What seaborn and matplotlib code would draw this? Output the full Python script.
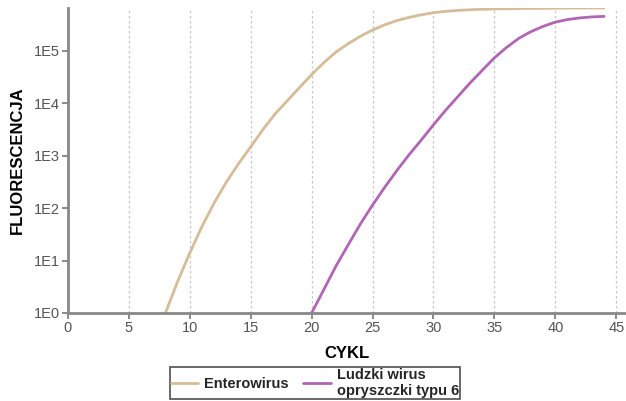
import pandas as pd
import matplotlib
matplotlib.use("Agg")
import matplotlib.pyplot as plt
import seaborn as sns

# cycle numbers and fluorescence
entero_cycles = list(range(8, 45))
entero_values = [1, 4, 14, 45, 126, 316, 708, 1480, 3160, 6300, 11200, 20000,
                 35500, 60000, 95500, 138000, 190500, 251000, 316000, 380000,
                 437000, 490000, 537000, 570000, 595000, 612000, 625000, 633000,
                 640000, 646000, 648000, 651000, 655000, 658000, 660000, 661000,
                 661000]
hhv6_cycles = list(range(20, 45))
hhv6_values = [1, 2.8, 7.9, 20, 50, 115, 251, 525, 1050, 2000, 3900, 7400,
               13500, 24500, 42700, 74000, 117000, 174000, 234000, 295000,
               355000, 398000, 427000, 447000, 457000]

series_names = ["Enterowirus", "Ludzki wirus\nopryszczki typu 6"]
x_ticks = [0, 5, 10, 15, 20, 25, 30, 35, 40, 45]
y_ticks = [1, 10, 100, 1000, 10000, 100000]
y_labels = ["1E0", "1E1", "1E2", "1E3", "1E4", "1E5"]

df = pd.concat([
    pd.DataFrame({"cykl": entero_cycles, "fl": entero_values, "seria": series_names[0]}),
    pd.DataFrame({"cykl": hhv6_cycles, "fl": hhv6_values, "seria": series_names[1]}),
])

sns.set_theme(style="white")
plt.rcParams["font.family"] = ["Liberation Sans", "DejaVu Sans"]

fig = plt.figure(figsize=(6.26, 4.01), dpi=100)
ax = fig.add_axes([0.1086, 0.2195, 0.8914, 0.7605])

palette = {series_names[0]: "#d6bc98", series_names[1]: "#b165b4"}
sns.lineplot(data=df, x="cykl", y="fl", hue="seria", palette=palette,
             linewidth=2, ax=ax, legend=False)

ax.set_yscale("log")
ax.set_ylim(1, 6.6e5)
ax.set_xlim(0, 45.8)
ax.set_xticks(x_ticks)
ax.set_yticks(y_ticks)
ax.set_yticklabels(y_labels)
ax.minorticks_off()
ax.tick_params(axis="both", labelsize=10.5, labelcolor="#555555", colors="#777777",
               length=4, width=1.2, direction="out", bottom=True, left=True, pad=2)

for x in x_ticks[1:]:
    ax.axvline(x, color="#c8c8c8", linestyle=(0, (2, 2)), linewidth=0.9, zorder=0)

for side in ["top", "right"]:
    ax.spines[side].set_visible(False)
for side in ["left", "bottom"]:
    ax.spines[side].set_color("#888888")
    ax.spines[side].set_linewidth(2)

ax.set_xlabel("CYKL", fontsize=12, fontweight="bold", color="black", labelpad=8)
ax.set_ylabel("FLUORESCENCJA", fontsize=12, fontweight="bold", color="black", labelpad=6)

handles = [plt.Line2D([], [], color=palette[n], linewidth=2) for n in series_names]
leg = fig.legend(handles, series_names, loc="center", bbox_to_anchor=(0.503, 0.045),
                 ncol=2, frameon=True, fancybox=False,
                 prop={"weight": "bold", "size": 10.5}, handlelength=1.9,
                 handletextpad=0.4, columnspacing=1.0, borderpad=0.05,
                 labelspacing=0.0)
leg.get_frame().set_edgecolor("#222222")
leg.get_frame().set_linewidth(1.2)

fig.savefig("out.png", dpi=100)
